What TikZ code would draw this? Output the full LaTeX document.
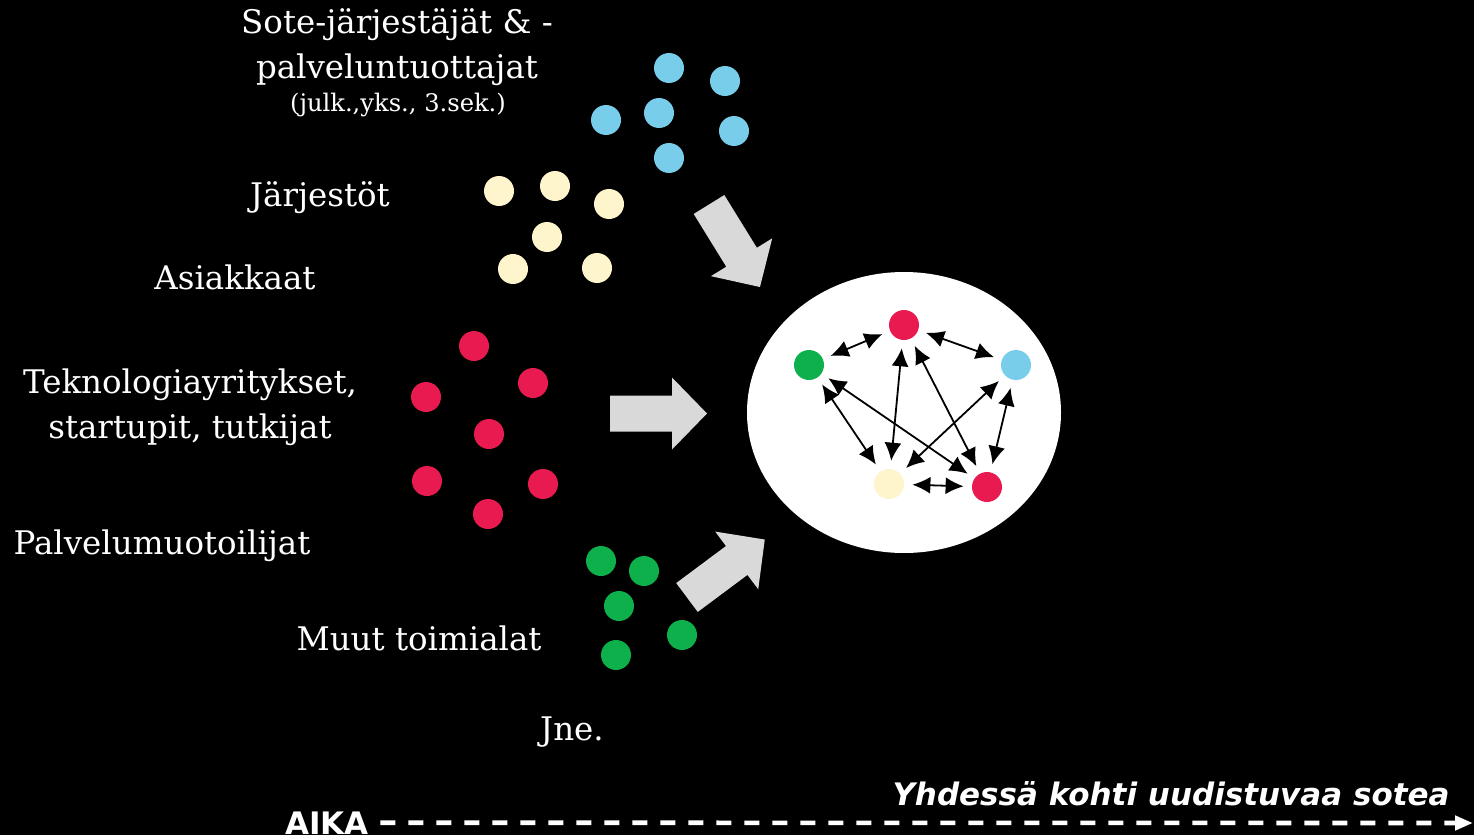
\documentclass[tikz,border=0pt]{standalone}
\usepackage{fontspec}
\setmainfont{DejaVu Serif}
\newfontfamily\timefont{DejaVu Sans}
\usepackage{tikz}
\usetikzlibrary{shapes,arrows,arrows.meta,positioning,calc}
\definecolor{dotblue}{HTML}{77CDEA}
\definecolor{dotcream}{HTML}{FFF5CC}
\definecolor{dotred}{HTML}{E91A50}
\definecolor{dotgreen}{HTML}{0DB04B}
\definecolor{arrowgray}{HTML}{D9D9D9}
\tikzset{
dot/.style = {circle, inner sep=0pt, minimum size=15pt},
bluedot/.style = {dot, fill=dotblue},
creamdot/.style = {dot, fill=dotcream},
reddot/.style = {dot, fill=dotred},
greendot/.style = {dot, fill=dotgreen},
grouptext/.style = {text=white, align=center, inner sep=0pt, font=\fontsize{16.25}{22.5}\selectfont},
hub/.style = {ellipse, fill=white, inner sep=0pt, minimum width=157pt, minimum height=140.5pt},
link/.style = {{Latex[length=9pt,width=8.5pt]}-{Latex[length=9pt,width=8.5pt]}, line width=0.9pt, shorten >=4pt, shorten <=4pt},
timeline/.style = {-{Triangle[length=9pt,width=7pt]}, white, line width=2.3pt, dash pattern=on 7.5pt off 6.5pt},
flowarrow/.pic = {\fill[arrowgray] (0,-18) -- (62,-18) -- (62,-36) -- (97,0) -- (62,36) -- (62,18) -- (0,18) -- cycle;}
}
\begin{document}
\begin{tikzpicture}[x=0.5pt, y=-0.5pt]
   \fill[black] (0,0) rectangle (1474,835);
   \useasboundingbox (0,0) rectangle (1474,835);
   % group labels
   \node [grouptext, anchor=base] (sote) at (397,78) {Sote-järjestäjät \& -\\palveluntuottajat};
   \node [grouptext, anchor=base, font=\fontsize{12.1}{14}\selectfont] (sotesub) at (398,112) {(julk.,yks., 3.sek.)};
   \node [grouptext, anchor=base] (jarj) at (320,206) {Järjestöt};
   \node [grouptext, anchor=base] (asiak) at (235,289) {Asiakkaat};
   \node [grouptext, anchor=base] (tekno) at (190,438) {Teknologiayritykset,\\startupit, tutkijat};
   \node [grouptext, anchor=base] (palvelu) at (162,554) {Palvelumuotoilijat};
   \node [grouptext, anchor=base] (muut) at (419,650) {Muut toimialat};
   \node [grouptext, anchor=base] (jne) at (572,740) {Jne.};
   % dots
   \node [bluedot] (b1) at (669,68) {};
   \node [bluedot] (b2) at (725,81) {};
   \node [bluedot] (b3) at (659,113) {};
   \node [bluedot] (b4) at (606,120) {};
   \node [bluedot] (b5) at (734,131) {};
   \node [bluedot] (b6) at (669,158) {};
   \node [creamdot] (c1) at (499,191) {};
   \node [creamdot] (c2) at (555,186) {};
   \node [creamdot] (c3) at (609,204) {};
   \node [creamdot] (c4) at (547,237) {};
   \node [creamdot] (c5) at (513,269) {};
   \node [creamdot] (c6) at (597,268) {};
   \node [reddot] (r1) at (474,346) {};
   \node [reddot] (r2) at (533,383) {};
   \node [reddot] (r3) at (426,397) {};
   \node [reddot] (r4) at (489,434) {};
   \node [reddot] (r5) at (427,481) {};
   \node [reddot] (r6) at (543,484) {};
   \node [reddot] (r7) at (488,514) {};
   \node [greendot] (g1) at (601,561) {};
   \node [greendot] (g2) at (644,571) {};
   \node [greendot] (g3) at (619,606) {};
   \node [greendot] (g4) at (682,635) {};
   \node [greendot] (g5) at (616,655) {};
   % big arrows
   \pic [rotate=-58.3] at (709,204.5) {flowarrow};
   \pic at (610,413.5) {flowarrow};
   \pic [rotate=36.7] at (687,597.5) {flowarrow};
   % network
   \node [hub] (hub) at (904,412.5) {};
   \node [reddot] (ired) at (904,325) {};
   \node [greendot] (igreen) at (809,365) {};
   \node [bluedot] (iblue) at (1016,365) {};
   \node [creamdot] (icream) at (889,484) {};
   \node [reddot] (ired2) at (987,487) {};
   \draw [link] (igreen) -- (ired);
   \draw [link] (ired) -- (iblue);
   \draw [link] (igreen) -- (icream);
   \draw [link] (igreen) -- (ired2);
   \draw [link] (ired) -- (icream);
   \draw [link] (ired) -- (ired2);
   \draw [link] (iblue) -- (icream);
   \draw [link] (iblue) -- (ired2);
   \draw [link] (icream) -- (ired2);
   % time line
   \node [anchor=base east, text=white, inner sep=0pt, font=\timefont\bfseries\itshape\fontsize{15.5}{18}\selectfont] (motto) at (1450,805) {Yhdessä kohti uudistuvaa sotea};
   \node [anchor=base west, text=white, inner sep=0pt, font=\timefont\bfseries\fontsize{15.5}{18}\selectfont] (aika) at (285,834) {AIKA};
   \coordinate (aikaend) at (1473,823);
   \draw [timeline] ($(aika.east)+(11,0)$) -- (aikaend);
\end{tikzpicture}
\end{document}
